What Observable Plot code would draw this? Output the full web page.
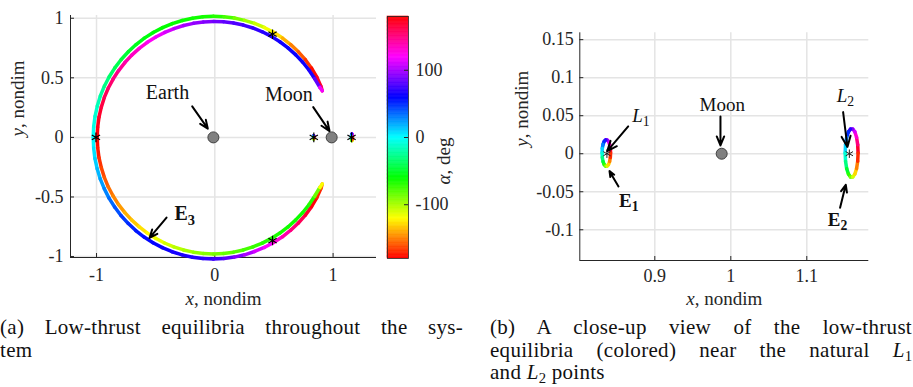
<!DOCTYPE html>
<html>
<head>
<meta charset="utf-8">
<script src="https://cdn.jsdelivr.net/npm/d3@7"></script>
<script src="https://cdn.jsdelivr.net/npm/@observablehq/plot@0.6"></script>
<style>
  html, body { margin: 0; padding: 0; background: #fff; }
  #root { position: relative; width: 913px; height: 387px; overflow: hidden; font-family: "Liberation Serif", serif; color: #000; }
  #root svg { position: absolute; top: 0; overflow: visible; }
  #root svg text { font-family: "Liberation Serif", serif !important; }
  .cap { position: absolute; font-size: 21px; line-height: 22.5px; letter-spacing: 0.3px; color: #111; }
  .cap .jl { text-align: justify; text-align-last: justify; }
  .cap sub { font-size: 0.7em; line-height: 0; vertical-align: -0.28em; letter-spacing: 0; }
</style>
</head>
<body>
<div id="root">
  <div class="cap" style="left:0px; top:316px; width:463px;">
    <div class="jl">(a) Low-thrust equilibria throughout the sys-</div>
    <div>tem</div>
  </div>
  <div class="cap" style="left:490px; top:316px; width:422px;">
    <div class="jl">(b) A close-up view of the low-thrust</div>
    <div class="jl">equilibria (colored) near the natural <i>L</i><sub>1</sub></div>
    <div>and <i>L</i><sub>2</sub> points</div>
  </div>
</div>
<script>
// ---------------- data ----------------
const earthX = -0.012;
const moonX = 0.988;
const primX = [earthX, moonX];
const primY = [0, 0];

// Lagrange points L1..L5
const lagX = [0.837, 1.156, -1.005, 0.488, 0.488];
const lagY = [0, 0, 0, 0.866, -0.866];

// Arc samples around Earth: polar angle (deg), radius, thrust angle alpha (deg)
const thetaUpper = [180,175,170,165,160,155,150,145,140,135,130,125,120,115,110,105,100,95,90,85,80,75,70,65,60,55,50,45,40,35,30,25,23];
const upperOuterR = [1.016,1.016,1.016,1.016,1.017,1.017,1.017,1.017,1.017,1.017,1.017,1.017,1.017,1.016,1.016,1.016,1.016,1.016,1.016,1.017,1.017,1.017,1.018,1.018,1.018,1.018,1.017,1.016,1.015,1.013,1.010,1.005,1.000];
const upperOuterAlpha = [0,-4,-9,-14,-20,-26,-32,-38,-44,-49,-53,-56,-58,-60,-61,-62,-63,-64,-66,-72,-82,-93,-103,-112,-122,-133,-145,-155,-163,-172,178,165,150];
const upperInnerR = [0.982,0.982,0.982,0.981,0.981,0.980,0.979,0.978,0.977,0.976,0.975,0.974,0.973,0.972,0.972,0.972,0.972,0.972,0.973,0.974,0.975,0.976,0.977,0.978,0.979,0.980,0.981,0.982,0.984,0.986,0.988,0.993,1.000];
const upperInnerAlpha = [180,176,172,167,162,157,152,147,142,137,131,125,119,113,107,101,96,92,88,84,80,76,73,70,67,65,63,62,62,64,70,95,140];

const thetaLower = [-180,-175,-170,-165,-160,-155,-150,-145,-140,-135,-130,-125,-120,-115,-110,-105,-100,-95,-90,-85,-80,-75,-70,-65,-60,-55,-50,-45,-40,-35,-30,-25,-23];
const lowerOuterR = [1.016,1.016,1.017,1.017,1.018,1.018,1.019,1.019,1.020,1.020,1.021,1.021,1.021,1.021,1.021,1.021,1.021,1.021,1.021,1.020,1.020,1.020,1.019,1.019,1.018,1.018,1.017,1.016,1.015,1.013,1.010,1.005,1.000];
const lowerOuterAlpha = [0,4,9,14,20,26,32,38,44,49,53,57,60,62,64,66,68,70,72,78,86,96,106,115,124,134,146,156,164,173,-178,-165,-150];
const lowerInnerR = [0.982,0.982,0.982,0.981,0.981,0.981,0.980,0.980,0.979,0.979,0.978,0.978,0.978,0.978,0.978,0.978,0.978,0.978,0.978,0.978,0.978,0.978,0.978,0.979,0.979,0.980,0.981,0.982,0.984,0.986,0.988,0.993,1.000];
const lowerInnerAlpha = [-180,-176,-171,-166,-161,-156,-151,-146,-141,-136,-130,-124,-118,-112,-106,-101,-97,-93,-90,-86,-82,-78,-74,-71,-68,-66,-64,-63,-63,-65,-72,-98,-140];

// Closed loops around L1 (E1) and L2 (E2)
const e1X = [0.8418,0.8415,0.8405,0.8390,0.8372,0.8352,0.8334,0.8319,0.8309,0.8306,0.8309,0.8319,0.8334,0.8352,0.8372,0.8390,0.8405,0.8415];
const e1Y = [0.0010,0.0070,0.0123,0.0162,0.0182,0.0182,0.0162,0.0123,0.0070,0.0010,-0.0050,-0.0103,-0.0142,-0.0162,-0.0162,-0.0142,-0.0103,-0.0050];
const e1Alpha = [180,160,140,120,100,80,60,40,20,0,-20,-40,-60,-80,-100,-120,-140,-160];
const e2X = [1.1675,1.1670,1.1655,1.1633,1.1605,1.1575,1.1548,1.1525,1.1510,1.1505,1.1510,1.1525,1.1548,1.1575,1.1605,1.1633,1.1655,1.1670];
const e2Y = [0.0010,0.0119,0.0216,0.0287,0.0325,0.0325,0.0287,0.0216,0.0119,0.0010,-0.0099,-0.0196,-0.0267,-0.0305,-0.0305,-0.0267,-0.0196,-0.0099];
const e2Alpha = [180,160,140,120,100,80,60,40,20,0,-20,-40,-60,-80,-100,-120,-140,-160];

// axes
const xDomainA = [-1.22, 1.367];
const yDomainA = [-1.008, 1.023];
const xTicksA = [-1, 0, 1];
const yTicksA = [-1, -0.5, 0, 0.5, 1];
const xDomainB = [0.8013, 1.1816];
const yDomainB = [-0.1404, 0.159];
const xTicksB = [0.9, 1, 1.1];
const yTicksB = [-0.1, -0.05, 0, 0.05, 0.1, 0.15];
const alphaDomain = [-180, 180];
const alphaTicks = [-100, 0, 100];

// annotations
const annotALabels = ["Earth", "Moon", "E3"];
const annotAX = [-0.400, 0.626, -0.254];
const annotAY = [0.375, 0.360, -0.642];
const arrowAX1 = [-0.191, 0.832, -0.408];
const arrowAY1 = [0.260, 0.254, -0.673];
const arrowAX2 = [-0.059, 0.970, -0.552];
const arrowAY2 = [0.073, 0.053, -0.844];

const annotBLabels = ["L1", "Moon", "L2", "E1", "E2"];
const annotBX = [0.8818, 0.9887, 1.1509, 0.8658, 1.1404];
const annotBY = [0.0500, 0.0642, 0.0757, -0.0617, -0.0864];
const arrowBX1 = [0.8650, 0.9864, 1.1478, 0.8522, 1.1438];
const arrowBY1 = [0.0359, 0.0491, 0.0547, -0.0430, -0.0711];
const arrowBX2 = [0.8374, 0.9864, 1.1535, 0.8404, 1.1513];
const arrowBY2 = [0.0034, 0.0109, 0.0087, -0.0229, -0.0408];

// ---------------- helpers ----------------
const hsvInterp = t => d3.hsl(t * 360, 1, 0.5).formatHex();
const colorScale = {type: "linear", domain: alphaDomain, interpolate: hsvInterp};
const fmt = d => String(d);
const TXT = "#262626";
const GRID = "#e4e4e4";

function midAlpha(a, b) {
  const d = ((b - a + 540) % 360) - 180;
  let m = a + d / 2;
  if (m > 180) m -= 360;
  if (m < -180) m += 360;
  return m;
}
function segments(xs, ys, as, closed) {
  const out = [];
  const n = xs.length;
  const last = closed ? n : n - 1;
  for (let i = 0; i < last; i++) {
    const j = (i + 1) % n;
    out.push({x1: xs[i], y1: ys[i], x2: xs[j], y2: ys[j], a: midAlpha(as[i], as[j])});
  }
  return out;
}
function polarBranch(thetas, rs) {
  return {
    xs: thetas.map((t, i) => earthX + rs[i] * Math.cos(t * Math.PI / 180)),
    ys: thetas.map((t, i) => rs[i] * Math.sin(t * Math.PI / 180))
  };
}
const uo = polarBranch(thetaUpper, upperOuterR);
const ui = polarBranch(thetaUpper, upperInnerR);
const lo = polarBranch(thetaLower, lowerOuterR);
const li = polarBranch(thetaLower, lowerInnerR);
const arcSegs = [
  ...segments(uo.xs, uo.ys, upperOuterAlpha, false),
  ...segments(ui.xs, ui.ys, upperInnerAlpha, false),
  ...segments(lo.xs, lo.ys, lowerOuterAlpha, false),
  ...segments(li.xs, li.ys, lowerInnerAlpha, false)
];
const loopSegs = [
  ...segments(e1X, e1Y, e1Alpha, true),
  ...segments(e2X, e2Y, e2Alpha, true)
];
const prim = primX.map((x, i) => ({x, y: primY[i]}));
const lag = lagX.map((x, i) => ({x, y: lagY[i]}));
const annA = annotALabels.map((t, i) => ({t, x: annotAX[i], y: annotAY[i]}));
const arrA = arrowAX1.map((x1, i) => ({x1, y1: arrowAY1[i], x2: arrowAX2[i], y2: arrowAY2[i]}));
const annB = annotBLabels.map((t, i) => ({t, x: annotBX[i], y: annotBY[i]}));
const arrB = arrowBX1.map((x1, i) => ({x1, y1: arrowBY1[i], x2: arrowBX2[i], y2: arrowBY2[i]}));

const rich = {
  "x, nondim": [["x", {italic: true}], [", nondim", {}]],
  "y, nondim": [["y", {italic: true}], [", nondim", {}]],
  "α, deg": [["α", {italic: true}], [", deg", {}]],
  "L1": [["L", {italic: true}], ["1", {sub: true}]],
  "L2": [["L", {italic: true}], ["2", {sub: true}]],
  "E1": [["E", {bold: true}], ["1", {bold: true, sub: true}]],
  "E2": [["E", {bold: true}], ["2", {bold: true, sub: true}]],
  "E3": [["E", {bold: true}], ["3", {bold: true, sub: true}]]
};
function enrich(svg) {
  svg.querySelectorAll("text").forEach(t => {
    const parts = rich[t.textContent];
    if (!parts) return;
    while (t.firstChild) t.removeChild(t.firstChild);
    for (const [s, o] of parts) {
      const ts = document.createElementNS("http://www.w3.org/2000/svg", "tspan");
      ts.textContent = s;
      if (o.italic) ts.setAttribute("font-style", "italic");
      if (o.bold) ts.setAttribute("font-weight", "bold");
      if (o.sub) { ts.setAttribute("font-size", "0.72em"); ts.setAttribute("dy", "0.3em"); }
      t.appendChild(ts);
    }
  });
}

const baseStyle = {fontFamily: "Liberation Serif, serif", fontSize: "18px", color: TXT, background: "transparent", overflow: "visible"};

// ---------------- panel (a) ----------------
const hA = 310, mtA = 15, mbA = 53, wA = 380, mlA = 70, mrA = 4;
const innerHA = hA - mtA - mbA, innerWA = wA - mlA - mrA;
const panelA = Plot.plot({
  width: wA, height: hA,
  marginLeft: mlA, marginRight: mrA, marginTop: mtA, marginBottom: mbA,
  x: {domain: xDomainA, ticks: xTicksA, tickFormat: fmt, tickSize: 0, tickPadding: 11, label: null},
  y: {domain: yDomainA, ticks: yTicksA, tickFormat: fmt, tickSize: 0, tickPadding: 7, label: null},
  color: colorScale,
  style: baseStyle,
  marks: [
    Plot.ruleX(xTicksA, {stroke: GRID, strokeWidth: 1.5}),
    Plot.ruleY(yTicksA, {stroke: GRID, strokeWidth: 1.5}),
    Plot.ruleX([xDomainA[0]], {stroke: TXT, strokeWidth: 1}),
    Plot.ruleY([yDomainA[0]], {stroke: TXT, strokeWidth: 1}),
    Plot.tickX(xTicksA, {x: d => d, insetTop: innerHA - 4, stroke: TXT}),
    Plot.tickY(yTicksA, {y: d => d, insetRight: innerWA - 4, stroke: TXT}),
    Plot.link(arcSegs, {x1: "x1", y1: "y1", x2: "x2", y2: "y2", stroke: "a", strokeWidth: 3.5, strokeLinecap: "round"}),
    Plot.link(loopSegs, {x1: "x1", y1: "y1", x2: "x2", y2: "y2", stroke: "a", strokeWidth: 2.5, strokeLinecap: "round"}),
    Plot.dot(prim, {x: "x", y: "y", r: 5.5, fill: "#808080", stroke: "#404040", strokeWidth: 1}),
    Plot.dot(lag, {x: "x", y: "y", symbol: "asterisk", r: 4.5, stroke: "#000", strokeWidth: 1.2}),
    Plot.arrow(arrA, {x1: "x1", y1: "y1", x2: "x2", y2: "y2", stroke: "#000", strokeWidth: 2, headLength: 10, headAngle: 45}),
    Plot.text(annA, {x: "x", y: "y", text: "t", fontSize: 20, fill: "#111"}),
    Plot.text(["y, nondim"], {frameAnchor: "left", dx: -53, rotate: -90, text: d => d, fontSize: 19, fill: TXT}),
    Plot.text(["x, nondim"], {frameAnchor: "bottom", dy: 47, text: d => d, fontSize: 19, fill: TXT})
  ]
});
panelA.style.left = "0px";
enrich(panelA);

// ---------------- colorbar ----------------
const cbSteps = d3.range(-180, 180, 2);
const wC = 80, mlC = 7, cbW = 21;
const colorbar = Plot.plot({
  width: wC, height: hA,
  marginLeft: mlC, marginRight: wC - mlC - cbW, marginTop: 16, marginBottom: hA - 258,
  x: {domain: [0, 1], axis: null},
  y: {domain: alphaDomain, ticks: alphaTicks, tickFormat: fmt, axis: "right", tickSize: 0, tickPadding: 7, label: null},
  color: colorScale,
  style: baseStyle,
  marks: [
    Plot.rect(cbSteps, {x1: 0, x2: 1, y1: d => d, y2: d => d + 2, fill: d => d + 1, stroke: d => d + 1, strokeWidth: 0.6}),
    Plot.tickY(alphaTicks, {y: d => d, insetLeft: cbW - 4, stroke: TXT}),
    Plot.frame({stroke: TXT, strokeWidth: 0.8}),
    Plot.text(["α, deg"], {frameAnchor: "right", dx: 35, rotate: -90, text: d => d, fontSize: 19, fill: TXT})
  ]
});
colorbar.style.left = "380px";
enrich(colorbar);

// ---------------- panel (b) ----------------
const wB = 453, hB = 310, mlB = 119.3, mrB = 44.7, mtB = 32.3, mbB = 50;
const innerHB = hB - mtB - mbB, innerWB = wB - mlB - mrB;
const panelB = Plot.plot({
  width: wB, height: hB,
  marginLeft: mlB, marginRight: mrB, marginTop: mtB, marginBottom: mbB,
  x: {domain: xDomainB, ticks: xTicksB, tickFormat: fmt, tickSize: 0, tickPadding: 9, label: null},
  y: {domain: yDomainB, ticks: yTicksB, tickFormat: fmt, tickSize: 0, tickPadding: 6, label: null},
  color: colorScale,
  style: baseStyle,
  marks: [
    Plot.ruleX(xTicksB, {stroke: GRID, strokeWidth: 1.5}),
    Plot.ruleY(yTicksB, {stroke: GRID, strokeWidth: 1.5}),
    Plot.ruleX([xDomainB[0]], {stroke: TXT, strokeWidth: 1}),
    Plot.ruleY([yDomainB[0]], {stroke: TXT, strokeWidth: 1}),
    Plot.tickX(xTicksB, {x: d => d, insetTop: innerHB - 4, stroke: TXT}),
    Plot.tickY(yTicksB, {y: d => d, insetRight: innerWB - 4, stroke: TXT}),
    Plot.link(loopSegs, {x1: "x1", y1: "y1", x2: "x2", y2: "y2", stroke: "a", strokeWidth: 3.5, strokeLinecap: "round"}),
    Plot.dot(prim, {x: "x", y: "y", r: 5.5, fill: "#808080", stroke: "#404040", strokeWidth: 1}),
    Plot.dot(lag, {x: "x", y: "y", symbol: "asterisk", r: 4, stroke: "#222", strokeWidth: 1}),
    Plot.arrow(arrB, {x1: "x1", y1: "y1", x2: "x2", y2: "y2", stroke: "#000", strokeWidth: 2, headLength: 10, headAngle: 45}),
    Plot.text(annB, {x: "x", y: "y", text: "t", fontSize: 19, fill: "#111"}),
    Plot.text(["y, nondim"], {frameAnchor: "left", dx: -58, rotate: -90, text: d => d, fontSize: 19, fill: TXT}),
    Plot.text(["x, nondim"], {frameAnchor: "bottom", dy: 44, text: d => d, fontSize: 19, fill: TXT})
  ]
});
panelB.style.left = "460px";
enrich(panelB);

const root = document.getElementById("root");
root.appendChild(panelA);
root.appendChild(colorbar);
root.appendChild(panelB);
</script>
</body>
</html>
